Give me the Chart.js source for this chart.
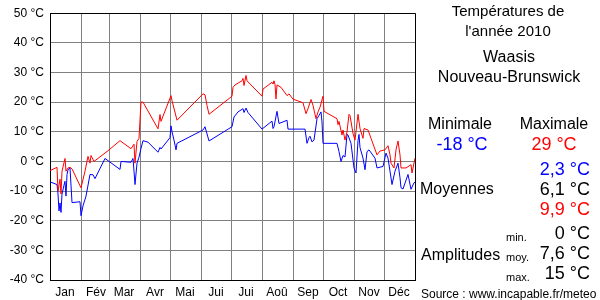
<!DOCTYPE html>
<html>
<head>
<meta charset="utf-8">
<script src="https://cdn.jsdelivr.net/npm/chart.js@4"></script>
<style>
  html, body { margin:0; padding:0; background:#fff; }
  #wrap { position:relative; width:600px; height:300px; font-family:"Liberation Sans", Arial, sans-serif; }
  canvas { position:absolute; left:0; top:0; }
  .t { position:absolute; white-space:nowrap; line-height:1; color:#000; }
  .c { transform:translate(-50%,-50%); }
  .r { transform:translate(-100%,-50%); }
  .l { transform:translate(0,-50%); }
</style>
</head>
<body>
<div id="wrap">
  <canvas id="chart" width="600" height="300"></canvas>
  <div class="t c" style="left:508px;top:10px;font-size:15px">Températures de</div>
  <div class="t c" style="left:508px;top:30px;font-size:15px">l'année 2010</div>
  <div class="t c" style="left:509px;top:57px;font-size:16px">Waasis</div>
  <div class="t c" style="left:509px;top:77px;font-size:16px">Nouveau-Brunswick</div>
  <div class="t c" style="left:460px;top:124px;font-size:16px">Minimale</div>
  <div class="t c" style="left:554px;top:124px;font-size:16px">Maximale</div>
  <div class="t c" style="left:462px;top:144px;font-size:18px;color:#0000ff">-18 °C</div>
  <div class="t c" style="left:554px;top:144px;font-size:18px;color:#ff0000">29 °C</div>
  <div class="t r" style="left:590px;top:169px;font-size:18px;color:#0000ff">2,3 °C</div>
  <div class="t l" style="left:420px;top:189px;font-size:16px">Moyennes</div>
  <div class="t r" style="left:590px;top:189px;font-size:18px">6,1 °C</div>
  <div class="t r" style="left:590px;top:209px;font-size:18px;color:#ff0000">9,9 °C</div>
  <div class="t l" style="left:506px;top:237px;font-size:11px">min.</div>
  <div class="t r" style="left:590px;top:233px;font-size:18px">0 °C</div>
  <div class="t l" style="left:421px;top:255px;font-size:16px">Amplitudes</div>
  <div class="t l" style="left:506px;top:257px;font-size:11px">moy.</div>
  <div class="t r" style="left:590px;top:253px;font-size:18px">7,6 °C</div>
  <div class="t l" style="left:506px;top:277px;font-size:11px">max.</div>
  <div class="t r" style="left:590px;top:273px;font-size:18px">15 °C</div>
  <div class="t l" style="left:421px;top:294px;font-size:12px">Source : www.incapable.fr/meteo</div>
</div>
<script>
// Month labels and month start days (day of year)
const monthLabels = ["Jan","Fév","Mar","Avr","Mai","Jui","Jui","Aoû","Sep","Oct","Nov","Déc",""];
const monthStarts = [0,31,59,90,120,151,181,212,243,273,304,334,365];

// Daily maximum temperatures (°C), by day of year
const maxDays = [0,7,8,10,11,12,15,16,18,20,22,31,35,38,40,41,44,58,70,81,84,85,87,89,91,93,108,110,111,121,122,127,153,155,157,159,182,183,185,192,193,194,196,197,212,213,222,223,224,225,226,227,231,237,239,243,253,256,258,261,263,266,268,270,273,274,287,288,289,292,293,295,297,299,300,303,305,308,310,313,314,318,321,327,330,335,338,340,341,344,346,348,350,351,356,361,362,365];
const maxTemps = [-3.1,-2,-10,-6,-11,-3.3,1,-3.3,-2.2,-2,-2.5,-8.9,-3.3,1.7,-0.6,2,0,3.6,7,4.3,5.8,-0.6,6.7,7.8,20,20,11,15.8,13.5,22.2,20.5,13.9,22.8,22.5,18.9,15.9,22,25,25.8,27.2,28,25.6,29,27.2,22,24.4,26.7,26.1,27.2,26,21.1,25.8,25,22.2,22.8,21,19.8,16.1,17.8,20.9,18.9,14.4,16.7,18.3,22,16.9,14.4,12.4,13.5,8.9,10.6,7.2,10,15.9,15.5,9.4,7.2,15.9,11.1,7.8,11.1,10.6,7.8,2.2,3.5,3.9,5.3,2.2,-0.6,-2.2,3.9,6.9,2.2,-2.2,-2.2,-1.1,-3.9,1.1];

// Daily minimum temperatures (°C), by day of year
const minDays = [0,7,8,9,10,11,12,14,15,16,17,18,20,22,30,31,33,36,40,43,45,55,70,71,81,83,84,85,87,89,91,93,98,108,110,111,120,121,122,124,126,127,153,155,159,182,184,188,193,194,196,198,212,222,223,224,227,229,235,237,238,255,257,259,260,262,264,267,269,271,272,273,287,289,291,293,295,297,298,301,304,306,308,309,310,313,315,317,319,325,327,333,336,338,340,342,345,348,350,351,353,358,361,364,365];
const minTemps = [-6.9,-7.8,-11,-16.7,-14,-17.2,-11,-8,-6.7,-11.7,-4.4,-2.8,-2.2,-13.9,-13.6,-18.3,-15,-11.7,-4.4,-4.5,-5.8,1,-2.7,0,-0.3,1,-3.3,-7.8,-0.6,1.4,4.4,7,6.5,3.1,4.7,4.2,8,12,10,7.2,3.9,6.1,10.6,11.7,6.9,11.7,15,16.7,17.8,16.5,18,16.5,10.9,13.6,11.1,11.7,16.9,12.8,13.6,13.9,10.9,10.9,6.1,8,8.5,6.6,7.2,14.4,15.5,16.7,13.3,6.1,6.1,3.3,0,2,1.5,9.1,8.9,6.1,-2.2,-3.9,7,9.1,4.7,1.1,-2.8,3.3,3.9,1.1,-2.2,-1.7,2.8,1.1,-3.3,-7.8,-3.3,-0.6,-5.5,-8.9,-9.3,-4.4,-9.4,-7.2,-7];

// Y axis range
const yMin = -40, yMax = 50, yStep = 10;

const toPoints = (xs, ys) => xs.map((d, i) => ({ x: d, y: ys[i] }));

new Chart(document.getElementById('chart'), {
  type: 'line',
  data: {
    datasets: [
      { label: 'Max', data: toPoints(maxDays, maxTemps), borderColor: '#ff0000', borderWidth: 1, pointRadius: 0, tension: 0, fill: false },
      { label: 'Min', data: toPoints(minDays, minTemps), borderColor: '#0000ff', borderWidth: 1, pointRadius: 0, tension: 0, fill: false }
    ]
  },
  options: {
    responsive: false,
    animation: false,
    layout: { padding: { top: 10, right: 185, left: 0, bottom: 0 } },
    plugins: { legend: { display: false }, tooltip: { enabled: false } },
    scales: {
      x: {
        type: 'linear', min: 0, max: 365,
        afterBuildTicks: s => { s.ticks = monthStarts.map(v => ({ value: v })); },
        afterFit: s => { s.height = 20; },
        grid: { color: c => (c.tick && c.tick.value === 365) ? '#000' : '#808080', lineWidth: 1, drawTicks: false },
        border: { display: true, color: '#000', width: 1 },
        ticks: {
          autoSkip: false, maxRotation: 0, minRotation: 0, padding: 5, labelOffset: 15,
          color: '#000', font: { family: '"Liberation Sans", Arial, sans-serif', size: 12 },
          callback: (v) => { const i = monthStarts.indexOf(v); return i >= 0 ? monthLabels[i] : ''; }
        }
      },
      y: {
        type: 'linear', min: yMin, max: yMax,
        afterFit: s => { s.width = 50; },
        grid: { color: c => (c.tick && c.tick.value === yMax) ? '#000' : '#808080', lineWidth: 1, drawTicks: false },
        border: { display: true, color: '#000', width: 1 },
        ticks: {
          stepSize: yStep, padding: 6, color: '#000',
          font: { family: '"Liberation Sans", Arial, sans-serif', size: 12 },
          callback: v => v + ' °C'
        }
      }
    }
  }
});
</script>
</body>
</html>
